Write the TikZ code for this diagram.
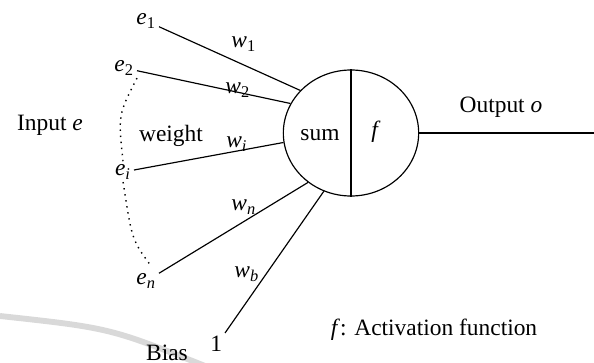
\documentclass[tikz,border=0pt]{standalone}
\usepackage{fontspec}
\setmainfont{Liberation Serif}
\usetikzlibrary{shapes,positioning,calc}
\newcommand{\sub}[2]{\textit{#1}\textsubscript{#2}}

\begin{document}
\begin{tikzpicture}[
    x=0.015cm, y=-0.015cm,
    lbl/.style={inner sep=1pt, font=\fontsize{10}{12}\selectfont},
    neuron/.style={ellipse, draw, line width=0.5pt, minimum width=2.03cm, minimum height=1.89cm, inner sep=0pt},
    link/.style={line width=0.5pt},
    bracket/.style={line width=0.6pt, dash pattern=on 0.6pt off 2pt}
]
    \useasboundingbox (0,0) rectangle (594,363);
    \draw[gray!30, line width=2.5pt] (0,316) .. controls (110,328) .. (205,366);

    \node[neuron] (neuron) at (351,133) {};
    \node[lbl] (sum) at (320,135) {sum};
    \node[lbl] (act) at (376,132) {\textit{f}};
    \coordinate (out) at (594,133);

    \node[lbl, anchor=east] (e1) at (159,21) {\sub{e}{1}};
    \node[lbl, anchor=east] (e2) at (137,68) {\sub{e}{2}};
    \node[lbl, anchor=east] (ei) at (134,172) {\sub{e}{\textit{i}}};
    \node[lbl, anchor=east] (en) at (159,281) {\sub{e}{\textit{n}}};
    \node[lbl, anchor=north east] (one) at (225,333) {1};

    \node[lbl] (w1) at (244,44) {\sub{w}{1}};
    \node[lbl] (w2) at (238,90) {\sub{w}{2}};
    \node[lbl] (wi) at (237,144) {\sub{w}{\textit{i}}};
    \node[lbl] (wn) at (244,207) {\sub{w}{\textit{n}}};
    \node[lbl] (wb) at (247,274) {\sub{w}{\textit{b}}};

    \node[lbl] (input) at (50,125) {Input \textit{e}};
    \node[lbl] (weight) at (171,136) {weight};
    \node[lbl] (output) at (501,107) {Output \textit{o}};
    \node[lbl] (bias) at (167,353) {Bias};
    \node[lbl] (legend) at (434,330) {\textit{f}: Activation function};

    \draw[link] (neuron.north) -- (neuron.south);
    \draw[link] (e1) -- (neuron.140);
    \draw[link] (e2) -- (neuron.154);
    \draw[link] (ei) -- (neuron.188);
    \draw[link] (en) -- (neuron.229);
    \draw[link] (one.north east) -- (neuron.245);
    \draw[link] (neuron.east) -- (out);

    \draw[bracket] (e2.south east) .. controls (118,115) .. (ei.north);
    \draw[bracket] (ei.south) .. controls (132,240) .. ($(en.north)+(4,-6)$);
\end{tikzpicture}
\end{document}
